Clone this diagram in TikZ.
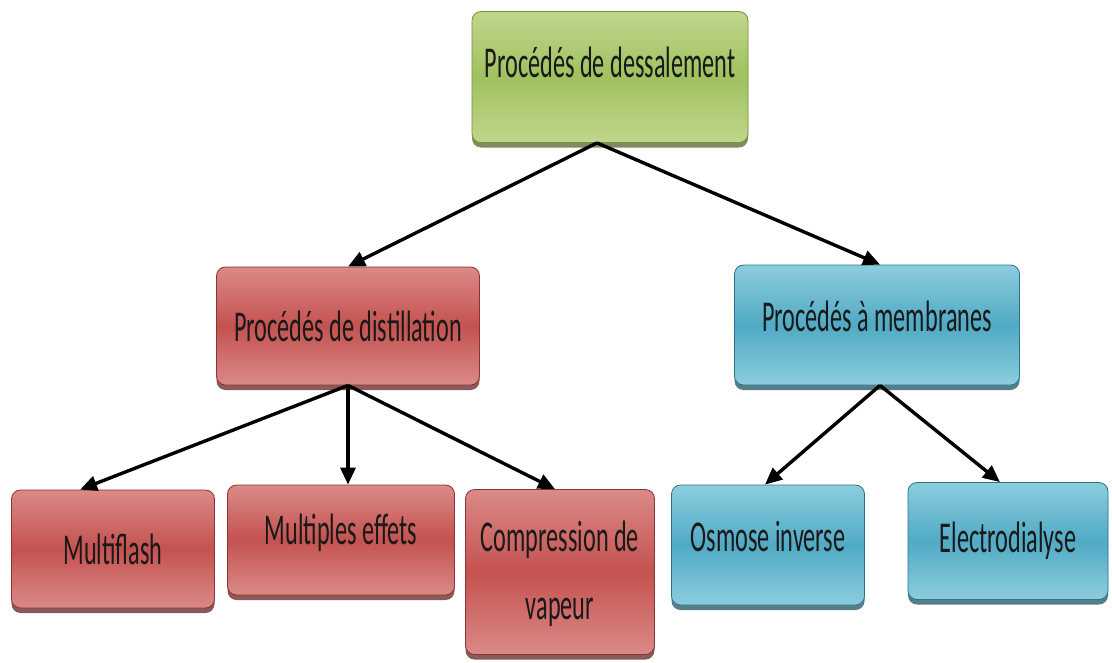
\documentclass[tikz,border=0pt]{standalone}
\usepackage{fontspec}
\setmainfont{Carlito}[FakeStretch=0.55]
\usepackage{tikz}
\usetikzlibrary{positioning,calc,arrows.meta,shadows}
\definecolor{dsgreenlt}{RGB}{192,214,140}
\definecolor{dsgreen}{RGB}{160,193,95}
\definecolor{dsgreendk}{RGB}{118,146,60}
\definecolor{dsredlt}{RGB}{218,138,136}
\definecolor{dsred}{RGB}{196,82,80}
\definecolor{dsreddk}{RGB}{140,50,48}
\definecolor{dsbluelt}{RGB}{140,205,222}
\definecolor{dsblue}{RGB}{80,170,196}
\definecolor{dsbluedk}{RGB}{40,118,140}
\tikzset{
  dsfont/.style={font=\fontsize{44}{68}\selectfont, text=black!90},
  dsbox/.style={draw=#1dk, line width=0.8pt, rounded corners=9pt, align=center, inner sep=0pt,
    top color=#1lt, bottom color=#1lt, middle color=#1,
    drop shadow={shadow xshift=0pt, shadow yshift=-5pt, opacity=0.75, fill=#1dk!70!black}},
  dsboxgreen/.style={dsbox=dsgreen},
  dsboxred/.style={dsbox=dsred},
  dsboxblue/.style={dsbox=dsblue},
  dsarrow/.style={-{Triangle[length=17pt,width=15pt]}, line width=3.4pt, black},
}
\begin{document}
\begin{tikzpicture}[dsfont, x=1pt, y=1pt]
  \useasboundingbox (0,0) rectangle (1112,-662);
  % root
  \node[dsboxgreen, minimum width=276pt, minimum height=131pt, text depth=30pt] (root) at (610,-77)
  {Procédés de dessalement};

  % second level
  \node[dsboxred, minimum width=263pt, minimum height=118pt] (dist) at (348,-326)
  {Procédés de distillation};
  \node[dsboxblue, minimum width=285pt, minimum height=120pt, text depth=18pt] (memb) at (877,-325)
  {Procédés à membranes};

  % third level - distillation
  \node[dsboxred, minimum width=203pt, minimum height=118pt] (multi) at (113,-549)
  {Multiflash};
  \node[dsboxred, minimum width=227pt, minimum height=110pt, text depth=22pt] (effets) at (341,-540)
  {Multiples effets};
  \node[dsboxred, minimum width=189pt, minimum height=165pt, text depth=4pt] (comp) at (560,-572)
  {Compression de\\vapeur};

  % third level - membranes
  \node[dsboxblue, minimum width=193pt, minimum height=120pt, text depth=18pt] (osmo) at (768,-545)
  {Osmose inverse};
  \node[dsboxblue, minimum width=200pt, minimum height=117pt] (electro) at (1008,-541)
  {Electrodialyse};

  % arrows
  \draw[dsarrow] ([xshift=-13pt]root.south) -- (dist.north);
  \draw[dsarrow] ([xshift=-13pt]root.south) -- ([xshift=3pt]memb.north);
  \draw[dsarrow] (dist.south) -- (multi.119);
  \draw[dsarrow] (dist.south) -- ([xshift=7pt]effets.north);
  \draw[dsarrow] (dist.south) -- ([xshift=-5pt]comp.north);
  \draw[dsarrow] ([xshift=3pt]memb.south) -- ([xshift=-3pt]osmo.north);
  \draw[dsarrow] ([xshift=3pt]memb.south) -- ([xshift=-8pt]electro.north);
\end{tikzpicture}
\end{document}
